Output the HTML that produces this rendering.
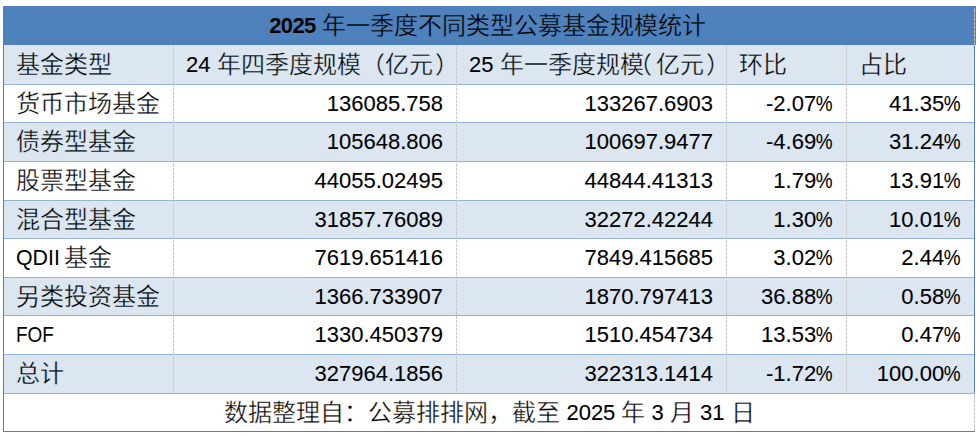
<!DOCTYPE html>
<html lang="zh-CN"><head><meta charset="utf-8"><style>
html,body{margin:0;padding:0;background:#fff;width:979px;height:438px;overflow:hidden;position:relative}
body{font-family:"Liberation Sans",sans-serif;color:#000}
.bg{position:absolute}
.t{position:absolute;white-space:nowrap;line-height:30px;height:30px}
.c{font-size:24px}
.l{font-size:22px;-webkit-text-stroke:0.1px #000;vertical-align:1px}
.lt{display:inline-block;transform-origin:left center;-webkit-text-stroke:0}
.sp{font-size:22px}
.rp{margin-left:2px}
.pc{display:inline-block;transform:scaleX(0.86);transform-origin:right center;margin-left:-2.7px}
.p{display:inline-block;width:12px}
.r{text-align:right}
.hl{position:absolute;height:1px;background:#95B3D7}
.vl{position:absolute;width:1px;background:repeating-linear-gradient(to bottom,#c8c8c8 0,#c8c8c8 3px,transparent 3px,transparent 4px);background-position:0 3px}
</style></head><body>

<div class="bg" style="left:3px;top:6px;width:973px;height:39px;background:#4F81BD"></div>
<div class="bg" style="left:3px;top:45px;width:971px;height:39px;background:#DCE6F1"></div>
<div class="bg" style="left:3px;top:84px;width:971px;height:38px;background:#FFFFFF"></div>
<div class="bg" style="left:3px;top:122px;width:971px;height:39px;background:#DCE6F1"></div>
<div class="bg" style="left:3px;top:161px;width:971px;height:39px;background:#FFFFFF"></div>
<div class="bg" style="left:3px;top:200px;width:971px;height:38px;background:#DCE6F1"></div>
<div class="bg" style="left:3px;top:238px;width:971px;height:39px;background:#FFFFFF"></div>
<div class="bg" style="left:3px;top:277px;width:971px;height:38px;background:#DCE6F1"></div>
<div class="bg" style="left:3px;top:315px;width:971px;height:39px;background:#FFFFFF"></div>
<div class="bg" style="left:3px;top:354px;width:971px;height:39px;background:#DCE6F1"></div>
<div class="bg" style="left:3px;top:393px;width:971px;height:38px;background:#FFFFFF"></div>
<div class="hl" style="left:3px;top:84px;width:971px"></div>
<div class="hl" style="left:3px;top:122px;width:971px"></div>
<div class="hl" style="left:3px;top:161px;width:971px"></div>
<div class="hl" style="left:3px;top:200px;width:971px"></div>
<div class="hl" style="left:3px;top:238px;width:971px"></div>
<div class="hl" style="left:3px;top:277px;width:971px"></div>
<div class="hl" style="left:3px;top:315px;width:971px"></div>
<div class="hl" style="left:3px;top:354px;width:971px"></div>
<div class="hl" style="left:3px;top:393px;width:971px"></div>
<div class="vl" style="left:173px;top:45px;height:348px"></div>
<div class="vl" style="left:456px;top:45px;height:348px"></div>
<div class="vl" style="left:726px;top:45px;height:348px"></div>
<div class="vl" style="left:846px;top:45px;height:348px"></div>
<div class="vl" style="left:974px;top:7px;height:38px;opacity:.9"></div>
<div class="vl" style="left:974px;top:393px;height:39px"></div>
<div class="bg" style="left:3px;top:6px;width:1px;height:426px;background:#4F81BD"></div>
<div class="bg" style="left:3px;top:6px;width:972px;height:1px;background:#4F81BD"></div>
<div class="bg" style="left:974px;top:45px;width:1px;height:348px;background:#4F81BD"></div>
<div class="bg" style="left:3px;top:431px;width:972px;height:1px;background:#4F81BD"></div>
<div class="t" style="left:-2px;width:979px;top:11px;text-align:center"><span class="l" style="font-weight:bold;-webkit-text-stroke:0;letter-spacing:-0.6px">2025</span><span class="c" style="-webkit-text-stroke:0.35px #4F81BD"><span class="sp"> </span>年一季度不同类型公募基金规模统计</span></div>
<div class="t" style="left:16px;top:50px"><span class="c" style="-webkit-text-stroke:0.35px #DCE6F1">基金类型</span></div>
<div class="t" style="left:186px;top:50px"><span class="l">24</span><span class="c" style="-webkit-text-stroke:0.35px #DCE6F1"><span class="sp"> </span>年四季度规模（亿元<span class="rp">）</span></span></div>
<div class="t" style="left:469px;top:50px"><span class="l">25</span><span class="c" style="-webkit-text-stroke:0.35px #DCE6F1"><span class="sp"> </span>年一季度规模</span><span class="p"><span class="c" style="margin-left:-16px;-webkit-text-stroke:0.35px #DCE6F1">（</span></span><span class="c" style="-webkit-text-stroke:0.35px #DCE6F1">亿元<span class="rp">）</span></span></div>
<div class="t" style="left:739px;top:50px"><span class="c" style="-webkit-text-stroke:0.35px #DCE6F1">环比</span></div>
<div class="t" style="left:859px;top:50px"><span class="c" style="-webkit-text-stroke:0.35px #DCE6F1">占比</span></div>
<div class="t" style="left:16px;top:89px"><span class="c" style="-webkit-text-stroke:0.35px #FFFFFF">货币市场基金</span></div>
<div class="t r" style="left:173px;width:270px;top:89px"><span class="l">136085.758</span></div>
<div class="t r" style="left:456px;width:257px;top:89px"><span class="l">133267.6903</span></div>
<div class="t r" style="left:726px;width:107px;top:89px"><span class="l">-2.07<span class="pc">%</span></span></div>
<div class="t r" style="left:846px;width:115px;top:89px"><span class="l">41.35<span class="pc">%</span></span></div>
<div class="t" style="left:16px;top:127px"><span class="c" style="-webkit-text-stroke:0.35px #DCE6F1">债券型基金</span></div>
<div class="t r" style="left:173px;width:270px;top:127px"><span class="l">105648.806</span></div>
<div class="t r" style="left:456px;width:257px;top:127px"><span class="l">100697.9477</span></div>
<div class="t r" style="left:726px;width:107px;top:127px"><span class="l">-4.69<span class="pc">%</span></span></div>
<div class="t r" style="left:846px;width:115px;top:127px"><span class="l">31.24<span class="pc">%</span></span></div>
<div class="t" style="left:16px;top:166px"><span class="c" style="-webkit-text-stroke:0.35px #FFFFFF">股票型基金</span></div>
<div class="t r" style="left:173px;width:270px;top:166px"><span class="l">44055.02495</span></div>
<div class="t r" style="left:456px;width:257px;top:166px"><span class="l">44844.41313</span></div>
<div class="t r" style="left:726px;width:107px;top:166px"><span class="l">1.79<span class="pc">%</span></span></div>
<div class="t r" style="left:846px;width:115px;top:166px"><span class="l">13.91<span class="pc">%</span></span></div>
<div class="t" style="left:16px;top:205px"><span class="c" style="-webkit-text-stroke:0.35px #DCE6F1">混合型基金</span></div>
<div class="t r" style="left:173px;width:270px;top:205px"><span class="l">31857.76089</span></div>
<div class="t r" style="left:456px;width:257px;top:205px"><span class="l">32272.42244</span></div>
<div class="t r" style="left:726px;width:107px;top:205px"><span class="l">1.30<span class="pc">%</span></span></div>
<div class="t r" style="left:846px;width:115px;top:205px"><span class="l">10.01<span class="pc">%</span></span></div>
<div class="t" style="left:16px;top:243px"><span class="l lt" style="transform:scaleX(0.97)">QDII</span></div>
<div class="t" style="left:64px;top:243px"><span class="c" style="-webkit-text-stroke:0.35px #FFFFFF">基金</span></div>
<div class="t r" style="left:173px;width:270px;top:243px"><span class="l">7619.651416</span></div>
<div class="t r" style="left:456px;width:257px;top:243px"><span class="l">7849.415685</span></div>
<div class="t r" style="left:726px;width:107px;top:243px"><span class="l">3.02<span class="pc">%</span></span></div>
<div class="t r" style="left:846px;width:115px;top:243px"><span class="l">2.44<span class="pc">%</span></span></div>
<div class="t" style="left:16px;top:282px"><span class="c" style="-webkit-text-stroke:0.35px #DCE6F1">另类投资基金</span></div>
<div class="t r" style="left:173px;width:270px;top:282px"><span class="l">1366.733907</span></div>
<div class="t r" style="left:456px;width:257px;top:282px"><span class="l">1870.797413</span></div>
<div class="t r" style="left:726px;width:107px;top:282px"><span class="l">36.88<span class="pc">%</span></span></div>
<div class="t r" style="left:846px;width:115px;top:282px"><span class="l">0.58<span class="pc">%</span></span></div>
<div class="t" style="left:16px;top:320px"><span class="l lt" style="transform:scaleX(0.86)">FOF</span></div>
<div class="t r" style="left:173px;width:270px;top:320px"><span class="l">1330.450379</span></div>
<div class="t r" style="left:456px;width:257px;top:320px"><span class="l">1510.454734</span></div>
<div class="t r" style="left:726px;width:107px;top:320px"><span class="l">13.53<span class="pc">%</span></span></div>
<div class="t r" style="left:846px;width:115px;top:320px"><span class="l">0.47<span class="pc">%</span></span></div>
<div class="t" style="left:16px;top:359px"><span class="c" style="-webkit-text-stroke:0.35px #DCE6F1">总计</span></div>
<div class="t r" style="left:173px;width:270px;top:359px"><span class="l">327964.1856</span></div>
<div class="t r" style="left:456px;width:257px;top:359px"><span class="l">322313.1414</span></div>
<div class="t r" style="left:726px;width:107px;top:359px"><span class="l">-1.72<span class="pc">%</span></span></div>
<div class="t r" style="left:846px;width:115px;top:359px"><span class="l">100.00<span class="pc">%</span></span></div>
<div class="t" style="left:3px;width:973px;top:398px;text-align:center"><span class="c" style="-webkit-text-stroke:0.35px #FFFFFF">数据整理自：公募排排网，截至<span class="sp"> </span></span><span class="l">2025</span><span class="c" style="-webkit-text-stroke:0.35px #FFFFFF"><span class="sp"> </span>年<span class="sp"> </span></span><span class="l">3</span><span class="c" style="-webkit-text-stroke:0.35px #FFFFFF"><span class="sp"> </span>月<span class="sp"> </span></span><span class="l">31</span><span class="c" style="-webkit-text-stroke:0.35px #FFFFFF"><span class="sp"> </span>日</span></div>
</body></html>
